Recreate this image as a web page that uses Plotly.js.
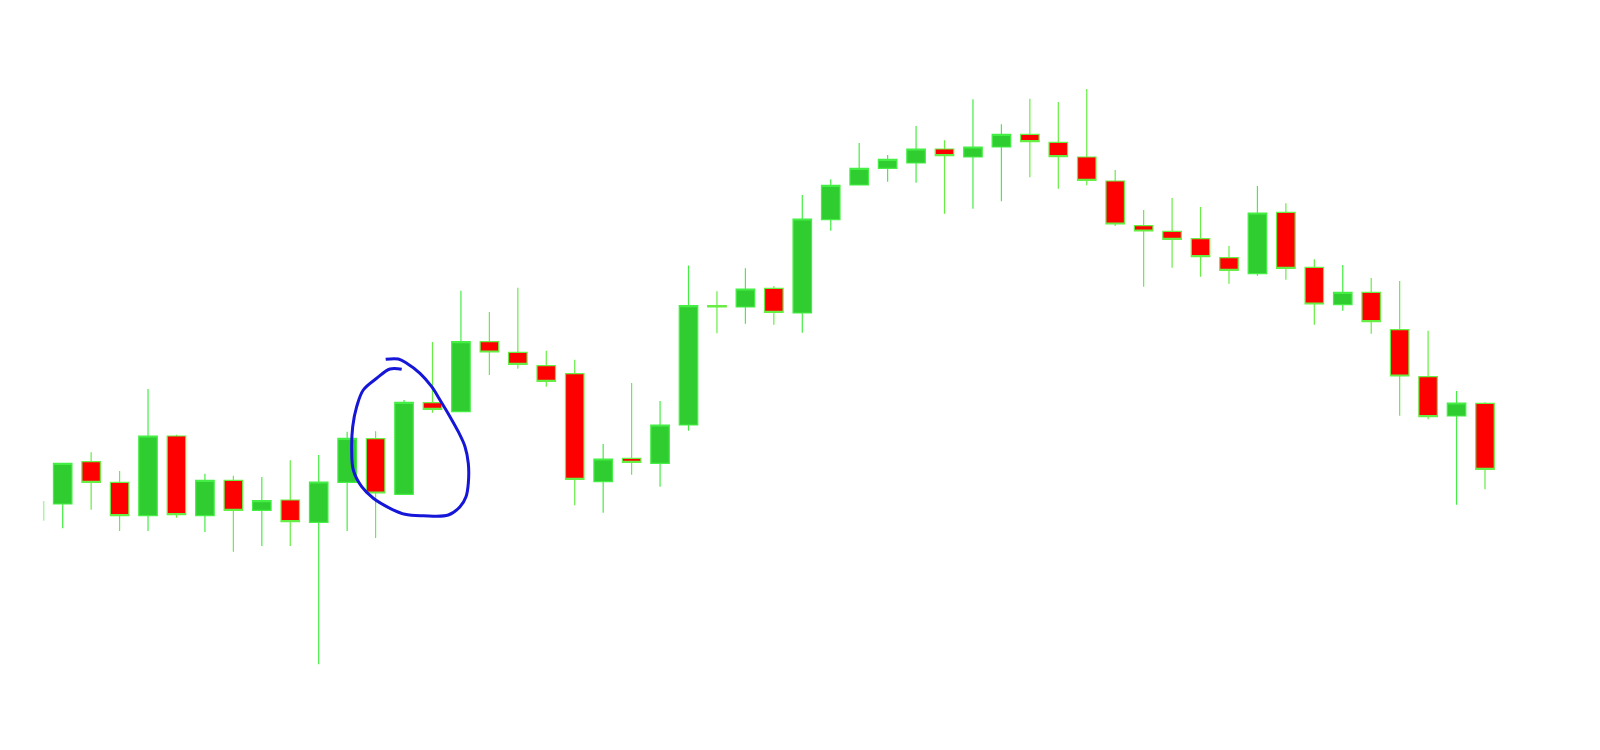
<!DOCTYPE html>
<html>
<head>
<meta charset="utf-8">
<script src="https://cdn.plot.ly/plotly-3.0.1.min.js"></script>
<style>
  html, body { margin: 0; padding: 0; background: #ffffff; }
  #chart { width: 1600px; height: 750px; }
</style>
</head>
<body>
<div id="chart"></div>
<script>
// Candle index (session number)
const bars = Array.from({length: 51}, (_, i) => i + 1);

// OHLC values (arbitrary price units, no axis shown)
const openV = [246.0, 288.3, 267.7, 234.3, 314.0, 234.3, 269.7, 239.7, 250.0, 227.7,
               267.7, 311.3, 255.7, 347.3, 338.3, 408.3, 397.7, 384.3, 376.3, 268.3,
               291.7, 286.7, 325.0, 444.5, 443.0, 461.7, 437.0, 530.3, 565.0, 581.7,
               587.0, 601.0, 593.0, 603.0, 615.7, 607.7, 593.0, 569.0, 524.3, 518.7,
               511.3, 492.3, 476.3, 537.7, 482.7, 445.3, 457.7, 420.3, 373.3, 334.0,
               346.7];
const highV = [286.7, 297.7, 279.0, 361.0, 315.3, 276.3, 274.3, 273.0, 289.7, 295.0,
               318.3, 318.7, 350.0, 408.0, 459.3, 438.0, 462.3, 399.3, 390.3, 306.0,
               367.0, 349.0, 484.5, 458.7, 481.7, 464.0, 555.0, 570.7, 607.0, 595.0,
               624.0, 609.7, 650.7, 625.7, 651.3, 648.0, 661.0, 580.0, 540.0, 552.0,
               543.0, 504.0, 564.0, 546.7, 490.7, 485.0, 472.0, 469.0, 419.3, 359.0,
               347.7];
const lowV  = [221.7, 240.3, 219.0, 219.0, 232.3, 218.0, 198.3, 204.0, 204.0, 85.7,
               219.0, 212.0, 255.7, 337.3, 338.3, 375.0, 381.3, 363.3, 244.7, 237.3,
               275.3, 263.3, 319.3, 416.7, 426.3, 425.3, 417.3, 519.3, 565.0, 568.3,
               567.3, 536.3, 541.3, 548.7, 572.7, 561.3, 564.7, 524.0, 463.3, 482.3,
               473.3, 466.3, 474.3, 470.3, 425.3, 439.3, 416.3, 334.3, 330.7, 245.3,
               260.7];
const closeV = [286.7, 267.7, 234.3, 314.0, 235.3, 269.7, 239.7, 249.3, 228.3, 268.0,
                311.7, 257.0, 347.7, 340.7, 408.3, 398.0, 385.7, 368.7, 270.7, 291.0,
                287.7, 325.0, 444.3, 443.0, 461.0, 437.7, 531.0, 564.7, 581.7, 590.7,
                601.0, 594.3, 603.0, 615.7, 608.3, 593.3, 569.7, 526.0, 519.0, 510.7,
                493.3, 479.7, 537.0, 481.7, 446.0, 457.7, 428.3, 374.0, 333.3, 347.0,
                280.7];

// Partial candle cut off at the left edge (only its wick is visible)
const strayX = [0.332, 0.332];
const strayY = [229.3, 249.0];

// Hand-drawn blue circle (in candle-index / price units)
const circleX = [12.355, 12.798, 13.093, 13.561, 13.972, 14.264, 14.615, 14.907, 15.143, 15.259,
                 15.259, 15.178, 14.967, 14.556, 13.677, 13.033, 12.506, 11.919, 11.511, 11.216,
                 11.160, 11.195, 11.335, 11.567, 12.038, 12.506, 12.917];
const circleY = [390.7, 391.0, 386.7, 376.7, 363.3, 350.0, 333.3, 318.3, 303.3, 286.7,
                 266.7, 253.3, 243.3, 235.0, 234.3, 235.7, 241.7, 251.7, 263.3, 280.0,
                 300.0, 323.3, 343.3, 360.0, 371.7, 381.0, 380.7];

const traces = [
  {
    type: 'scatter', mode: 'lines', x: strayX, y: strayY,
    line: {color: 'rgba(90,240,90,0.55)', width: 1.5},
    hoverinfo: 'skip', showlegend: false
  },
  {
    type: 'candlestick',
    x: bars, open: openV, high: highV, low: lowV, close: closeV,
    increasing: {fillcolor: '#30CD30', line: {color: '#44EE44', width: 1.2}},
    decreasing: {fillcolor: '#FF0000', line: {color: '#66EE44', width: 1.2}},
    whiskerwidth: 0,
    showlegend: false
  },
  {
    type: 'scatter', mode: 'lines', x: circleX, y: circleY,
    line: {color: '#1616D8', width: 3, shape: 'spline', smoothing: 1},
    hoverinfo: 'skip', showlegend: false
  }
];

const layout = {
  width: 1600, height: 750,
  margin: {l: 0, r: 0, t: 0, b: 0},
  paper_bgcolor: '#ffffff', plot_bgcolor: '#ffffff',
  showlegend: false,
  boxgap: 0.35, boxgroupgap: 0,
  xaxis: {range: [-1.204, 55.043], visible: false, showgrid: false, zeroline: false,
          rangeslider: {visible: false}, fixedrange: true},
  yaxis: {range: [0, 750], visible: false, showgrid: false, zeroline: false, fixedrange: true}
};

Plotly.newPlot('chart', traces, layout, {displayModeBar: false, staticPlot: true});
</script>
</body>
</html>
